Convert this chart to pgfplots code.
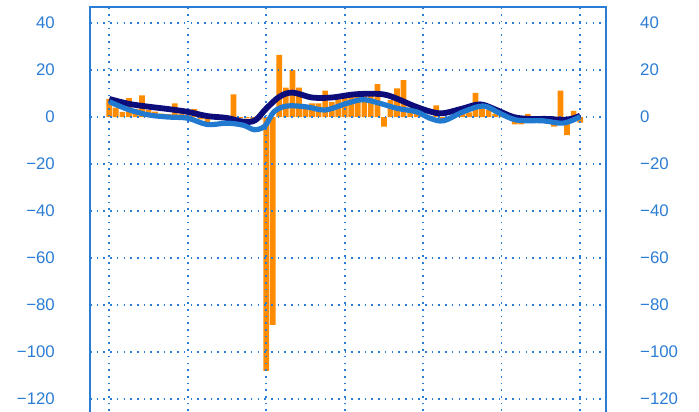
\documentclass[border=0pt]{standalone}
\usepackage{pgfplots}
\pgfplotsset{compat=1.18}
\usepackage{pgfplotstable}
\usepackage{fontspec}
\setmainfont{Liberation Sans}
\definecolor{axblue}{RGB}{42,124,212}
\definecolor{barorange}{RGB}{255,140,0}
\definecolor{navyline}{RGB}{12,12,122}
\definecolor{blueline}{RGB}{34,122,208}

\pgfplotstableread{
x y
0 7.7
1 4.0
2 2.2
3 8.0
4 3.5
5 9.2
6 3.0
7 2.3
8 1.5
9 1.2
10 5.8
11 1.5
12 1.0
13 3.4
14 -1.0
15 -2.4
16 0.2
17 0.3
18 0.5
19 9.6
20 -0.5
21 -0.6
22 -1.0
23 -1.0
24 -108
25 -88.5
26 26.4
27 12.5
28 20.0
29 12.5
30 3.5
31 5.8
32 5.8
33 11.2
34 6.5
35 7.5
36 8.0
37 8.7
38 10.8
39 10.4
40 10.0
41 14.0
42 -4.1
43 7.2
44 12.2
45 15.7
46 4.0
47 2.0
48 1.0
49 0.5
50 5.0
51 -1.0
52 -0.5
53 0.5
54 1.5
55 2.0
56 10.3
57 3.7
58 3.0
59 1.5
60 0.5
61 0.3
62 -3.1
63 -3.1
64 1.3
65 0.2
66 -0.3
67 -0.5
68 -4.1
69 11.2
70 -7.7
71 2.6
72 -2.4
}\bars

\pgfplotstableread{
x y
0 7.7
3 5.6
6 4.4
9 3.4
12 2.2
15 0.4
18 -0.4
20.5 -2.0
22.3 -1.4
24 3.6
26 8.6
28 10.4
31 8.3
34 8.3
37 9.5
39.5 9.9
42 9.6
44 7.8
46.5 4.8
49 2.4
51 1.6
54 3.6
56.7 5.4
59.2 3.0
61.8 0.0
64.3 -0.8
67 -0.8
69.4 -1.2
71 -0.5
72 0.6
}\navy

\pgfplotstableread{
x y
0 6.5
3 3.1
6 0.9
9 0.0
12 -0.5
15 -3.2
18 -2.6
20.5 -3.5
22.2 -5.4
23.8 -3.8
25.2 2.3
27.2 4.7
30.2 4.3
33 3.0
36.3 5.8
38.8 7.4
41.4 5.8
44 3.7
47 2.2
49 -0.5
51.1 -1.6
54.1 2.2
57.2 4.7
59.7 1.6
62.3 -1.3
66.3 -1.6
69.4 -2.6
72.0 0.1
}\blue

\begin{document}
\fontsize{16.5pt}{19pt}\selectfont
\begin{tikzpicture}
\pgfplotsset{
  common/.style={
    scale only axis, width=516pt, height=410.5pt,
    at={(0,0)}, anchor=south west,
    xmin=-2.95, xmax=75.95, ymin=-128, ymax=46.7,
    ytick={-120,-100,-80,-60,-40,-20,0,20,40},
    yticklabels={−120,−100,−80,−60,−40,−20,0,20,40},
    major tick length=0pt,
    tick label style={font=\fontsize{16.8pt}{19pt}\selectfont, text=axblue},
    axis line style={draw=axblue, line width=2pt},
  }
}
\begin{axis}[common, name=main, set layers,
    xtick={0,12,24,36,48,60,72}, xticklabels={},
    grid=major,
    major grid style={draw=axblue, line width=1.6pt, dash pattern=on 1.6pt off 5.1pt},
    yticklabel style={anchor=east, inner sep=0pt, xshift=-35pt},
    clip=true]
\addplot[ybar, bar width=5.7pt, fill=barorange, draw=none, on layer=axis background] table[x=x,y=y] {\bars};
\addplot[navyline, line width=5.8pt, smooth, tension=0.55] table[x=x,y=y] {\navy};
\addplot[blueline, line width=5.2pt, smooth, tension=0.55] table[x=x,y=y] {\blue};
\end{axis}
\begin{axis}[common,
    axis y line*=right, axis x line=none,
    yticklabel style={anchor=west, inner sep=0pt, xshift=34pt}]
\end{axis}
\pgfresetboundingbox
\path ([shift={(-90pt,5.9pt)}]main.south west) rectangle ([shift={(93pt,7.3pt)}]main.north east);
\end{tikzpicture}
\end{document}
